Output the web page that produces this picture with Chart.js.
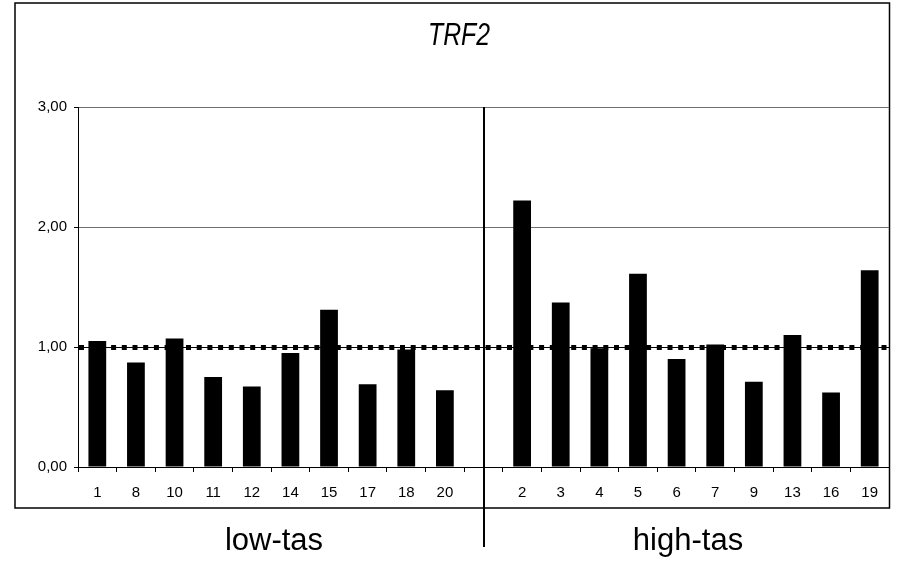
<!DOCTYPE html>
<html>
<head>
<meta charset="utf-8">
<title>TRF2</title>
<script src="https://cdn.jsdelivr.net/npm/chart.js@4.4.1/dist/chart.umd.min.js"></script>
<style>
  body { margin: 0; background: #fff; }
  canvas { display: block; }
</style>
</head>
<body>
<canvas id="trfChart" width="900" height="562"></canvas>
<script>
// Sample ids and relative expression values
const chartTitle = 'TRF2';
const groupNames = ['low-tas', 'high-tas'];
const lowIds = ['1', '8', '10', '11', '12', '14', '15', '17', '18', '20'];
const lowValues = [1.05, 0.87, 1.07, 0.75, 0.67, 0.95, 1.31, 0.69, 0.98, 0.64];
const highIds = ['2', '3', '4', '5', '6', '7', '9', '13', '16', '19'];
const highValues = [2.22, 1.37, 0.99, 1.61, 0.90, 1.02, 0.71, 1.10, 0.62, 1.64];
const referenceLevel = 1.0;
const yMin = 0, yMax = 3, yStep = 1;

// one empty slot between the two groups, the divider sits in it
const labels = [...lowIds, '', ...highIds];
const values = [...lowValues, null, ...highValues];
const gapIndex = lowIds.length;

const FONT = '"Liberation Sans", Arial, sans-serif';

// Frame, title, divider, dotted reference line and group names
const decorations = {
    id: 'decorations',
    beforeDraw(chart) {
        const ctx = chart.ctx;
        ctx.save();
        ctx.fillStyle = '#fff';
        ctx.fillRect(0, 0, chart.width, chart.height);
        ctx.strokeStyle = '#000';
        ctx.lineWidth = 1.5;
        ctx.strokeRect(15, 3, 874.5, 505);
        ctx.restore();
    },
    afterDatasetsDraw(chart) {
        const ctx = chart.ctx;
        const area = chart.chartArea;
        const x = chart.scales.x;
        const y = chart.scales.y;
        const yRef = Math.round(y.getPixelForValue(referenceLevel));

        ctx.save();
        // thin solid line under the dots
        ctx.strokeStyle = '#000';
        ctx.lineWidth = 1;
        ctx.beginPath();
        ctx.moveTo(area.left, yRef + 0.5);
        ctx.lineTo(area.right, yRef + 0.5);
        ctx.stroke();
        // square dots
        ctx.lineWidth = 5;
        ctx.setLineDash([5, 5.7]);
        ctx.beginPath();
        ctx.moveTo(area.left + 1, yRef + 0.5);
        ctx.lineTo(area.right, yRef + 0.5);
        ctx.stroke();
        ctx.setLineDash([]);

        // divider between the two groups
        const xDiv = Math.round(x.getPixelForValue(gapIndex));
        ctx.lineWidth = 2;
        ctx.beginPath();
        ctx.moveTo(xDiv, area.top);
        ctx.lineTo(xDiv, 547);
        ctx.stroke();

        // title, condensed like the original
        ctx.fillStyle = '#000';
        ctx.textAlign = 'center';
        ctx.textBaseline = 'alphabetic';
        ctx.font = 'italic 31px ' + FONT;
        ctx.save();
        ctx.translate(459, 45);
        ctx.scale(0.8, 1);
        ctx.fillText(chartTitle, 0, 0);
        ctx.restore();

        // group names under the frame
        ctx.font = '31px ' + FONT;
        ctx.fillText(groupNames[0], 274, 550);
        ctx.fillText(groupNames[1], 688, 550);
        ctx.restore();
    }
};

new Chart(document.getElementById('trfChart'), {
    type: 'bar',
    data: {
        labels: labels,
        datasets: [{
            data: values,
            backgroundColor: '#000',
            borderWidth: 0,
            categoryPercentage: 1.0,
            barPercentage: 0.46
        }]
    },
    options: {
        responsive: false,
        animation: false,
        layout: { padding: { top: 107, right: 11, bottom: 55, left: 0 } },
        plugins: {
            legend: { display: false },
            tooltip: { enabled: false },
            title: { display: false }
        },
        scales: {
            x: {
                afterFit(scale) { scale.height = 40; },
                grid: {
                    offset: true,
                    drawOnChartArea: false,
                    drawTicks: true,
                    tickLength: 5,
                    color: '#000'
                },
                border: { color: '#000', width: 1 },
                ticks: {
                    color: '#000',
                    font: { family: FONT, size: 15 },
                    padding: 12,
                    maxRotation: 0,
                    autoSkip: false
                }
            },
            y: {
                min: yMin,
                max: yMax,
                afterFit(scale) { scale.width = 78; },
                grid: {
                    color: '#707070',
                    lineWidth: 1,
                    tickLength: 4,
                    tickColor: '#000'
                },
                border: { color: '#000', width: 1 },
                ticks: {
                    stepSize: yStep,
                    color: '#000',
                    font: { family: FONT, size: 15 },
                    padding: 7,
                    callback: v => v.toFixed(2).replace('.', ',')
                }
            }
        }
    },
    plugins: [decorations]
});
</script>
</body>
</html>
